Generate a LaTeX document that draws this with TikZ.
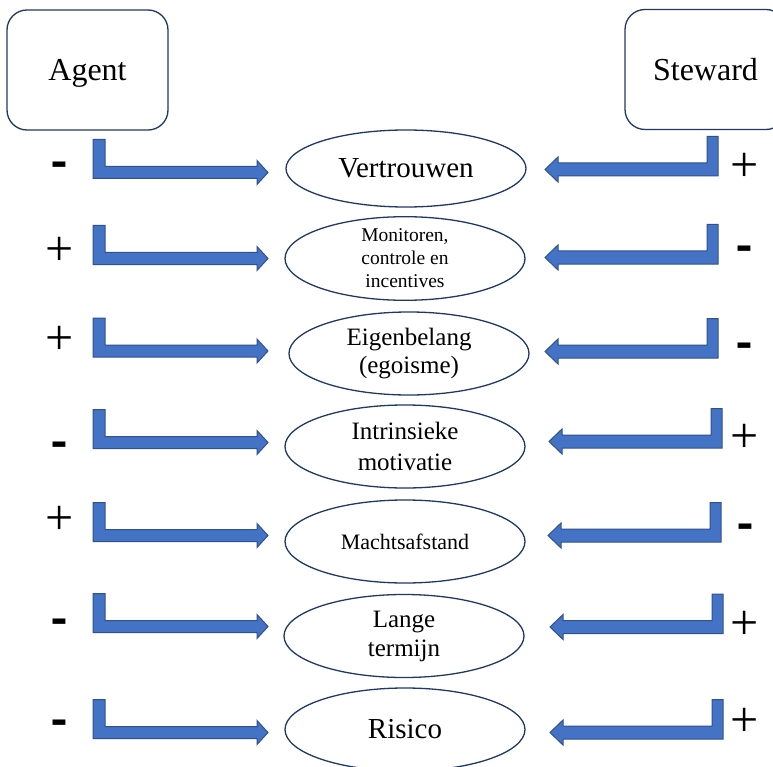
\documentclass[tikz,border=0pt]{standalone}
\usepackage{fontspec}
\setmainfont{Liberation Serif}
\newfontfamily\signfont{Carlito}
\usepackage{tikz}
\usetikzlibrary{positioning,shapes.geometric,calc}
\definecolor{ink}      {HTML}{1F3864}
\definecolor{blockfill}{HTML}{4472C4}
\definecolor{blockline}{HTML}{2F528F}
\newcommand{\fsz}[2]{\fontsize{#1}{#2}\selectfont}
\tikzset{
  % --- nodes
  role/.style   = {draw=ink, line width=1.3pt, rounded corners=20pt, fill=white,
                   minimum width=161pt, minimum height=120pt, inner sep=0pt,
                   text depth=0pt, font=\fsz{32}{38}},
  fac/.style    = {ellipse, draw=ink, line width=1.3pt, fill=white, align=center,
                   minimum width=240pt, minimum height=83pt, inner sep=0pt},
  possign/.style= {inner sep=0pt, yshift=-3pt, font=\fsz{50}{50}},
  negsign/.style= {inner sep=0pt, yshift=-7pt, font=\signfont\bfseries\fsz{52}{52}},
  % --- block arrows
  blk/.style    = {fill=blockfill, draw=blockline, line width=1pt, line join=miter},
  lbend/.pic    = {\draw[blk] (-175,-33) -- (-163,-33) -- (-163,-6) -- (-11,-6)
                   -- (-11,-12) -- (0,0) -- (-11,12) -- (-11,6) -- (-175,6) -- cycle;},
  rbend/.pic    = {\draw[blk] (0,0) -- (13,-12.5) -- (13,-6.5) -- (162,-6.5)
                   -- (162,-33) -- (173,-33) -- (173,6.5) -- (13,6.5) -- (13,12.5) -- cycle;},
}
\begin{document}
\begin{tikzpicture}[x=1pt,y=-1pt]
  \clip (0,0) rectangle (773,767);
  \fill[white] (0,0) rectangle (773,767);

  \node[role] (agent) at (87.5,70) {Agent};
  \node[role] (steward) at (705.5,69.5) {Steward};

  \node[fac, minimum height=77pt, font=\fsz{29}{32}] (vt) at (406,168.5) {Vertrouwen};
  \node[fac, font=\fsz{19.5}{23}] (mc) at (405,258.5) {Monitoren,\\controle en\\incentives};
  \node[fac, font=\fsz{25}{28}] (eb) at (409,353.5) {Eigenbelang\\(egoisme)};
  \node[fac, font=\fsz{25}{31}] (im) at (405,446.5) {Intrinsieke\\motivatie};
  \node[fac, font=\fsz{22}{26}] (ma) at (405,541.5) {Machtsafstand};
  \node[fac, font=\fsz{25}{29}] (lt) at (404,636) {Lange\\termijn};
  \node[fac, font=\fsz{29}{32}] (ri) at (405,729.5) {Risico};

  % arrow tips, agent side
  \coordinate (la1) at (268,172.5);
  \coordinate (la2) at (268,258.5);
  \coordinate (la3) at (268,351);
  \coordinate (la4) at (268,442.5);
  \coordinate (la5) at (268,535.5);
  \coordinate (la6) at (268,626.5);
  \coordinate (la7) at (268,732.5);
  % arrow tips, steward side
  \coordinate (ra1) at (545,169.5);
  \coordinate (ra2) at (545,257.5);
  \coordinate (ra3) at (545,351.5);
  \coordinate (ra4) at (549,441.5);
  \coordinate (ra5) at (548,535.5);
  \coordinate (ra6) at (550,627);
  \coordinate (ra7) at (550,732.5);

  \pic at (la1) {lbend};
  \pic at (la2) {lbend};
  \pic at (la3) {lbend};
  \pic at (la4) {lbend};
  \pic at (la5) {lbend};
  \pic at (la6) {lbend};
  \pic at (la7) {lbend};
  \pic at (ra1) {rbend};
  \pic at (ra2) {rbend};
  \pic at (ra3) {rbend};
  \pic at (ra4) {rbend};
  \pic at (ra5) {rbend};
  \pic at (ra6) {rbend};
  \pic at (ra7) {rbend};

  % signs
  \node[negsign] (ls1) at (59,164) {-};
  \node[possign] (ls2) at (60,248) {+};
  \node[possign] (ls3) at (60,337) {+};
  \node[negsign] (ls4) at (59,444) {-};
  \node[possign] (ls5) at (60,517) {+};
  \node[negsign] (ls6) at (59,621) {-};
  \node[negsign] (ls7) at (59,722) {-};
  \node[possign] (rs1) at (745,164) {+};
  \node[negsign] (rs2) at (744,248) {-};
  \node[negsign] (rs3) at (744,345) {-};
  \node[possign] (rs4) at (745,435) {+};
  \node[negsign] (rs5) at (745,526) {-};
  \node[possign] (rs6) at (745,622) {+};
  \node[possign] (rs7) at (745,719) {+};
\end{tikzpicture}
\end{document}
